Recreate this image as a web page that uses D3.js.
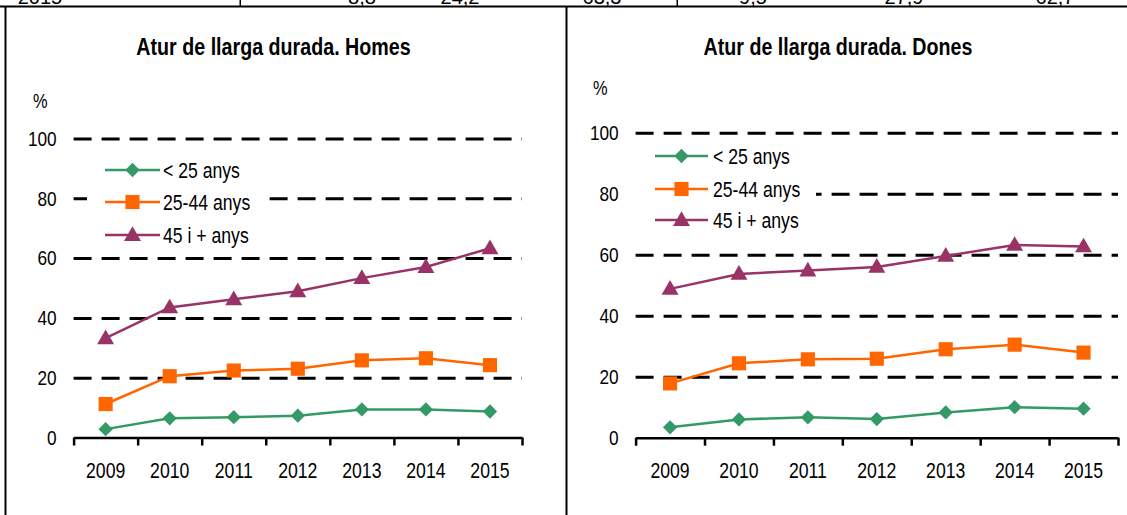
<!DOCTYPE html>
<html>
<head>
<meta charset="utf-8">
<script src="https://cdn.jsdelivr.net/npm/d3@7"></script>
<style>
  html, body { margin: 0; padding: 0; background: #fff; }
  svg { display: block; }
  text { font-family: 'Liberation Sans Narrow', 'Arial Narrow', 'Liberation Sans', Arial, sans-serif; fill: #000; }
</style>
</head>
<body>
<svg id="chart" width="1127" height="515"></svg>
<script>
// Data
const years = ['2009', '2010', '2011', '2012', '2013', '2014', '2015'];
const yTicks = [0, 20, 40, 60, 80, 100];
const seriesNames = ['< 25 anys', '25-44 anys', '45 i + anys'];

const homesUnder25 = [2.8, 6.4, 6.8, 7.3, 9.4, 9.4, 8.7];
const homes25to44 = [11.2, 20.5, 22.4, 23.0, 25.8, 26.5, 24.2];
const homes45plus = [33.2, 43.5, 46.2, 48.9, 53.3, 57.0, 63.3];

const donesUnder25 = [3.4, 6.0, 6.7, 6.1, 8.3, 10.0, 9.5];
const dones25to44 = [17.8, 24.4, 25.7, 25.9, 29.0, 30.5, 27.9];
const dones45plus = [48.8, 53.7, 54.8, 56.0, 59.6, 63.2, 62.7];

// last row of the table above the charts (mostly cut off)
const tableRow = ['2015', '8,8', '24,2', '63,3', '9,5', '27,9', '62,7'];
const tableX = [40, 362, 460, 602, 753, 904, 1055];

const colors = ['#339966', '#ff6600', '#993366'];
const symbols = [d3.symbolDiamond2, d3.symbolSquare, d3.symbolTriangle];
const symbolSizes = [130, 200, 125];

// no narrow face installed: squeeze the regular one
const NARROW = 0.82;
const narrowAt = (sel) => sel.each(function () {
  const t = d3.select(this);
  const x = +t.attr('x') || 0;
  t.attr('x', 0).attr('transform', `translate(${x},0) scale(${NARROW},1)`);
});

const svg = d3.select('#chart');

// Table remnant + borders
svg.selectAll('.cell')
  .data(tableRow)
  .join('text')
  .attr('class', 'cell')
  .attr('x', (d, i) => tableX[i])
  .attr('y', 3.5)
  .attr('text-anchor', 'middle')
  .style('font-size', '20px')
  .text(d => d);

svg.append('rect').attr('x', 0).attr('y', 5.5).attr('width', 1127).attr('height', 2).attr('fill', '#000');
svg.append('rect').attr('x', 239.5).attr('y', 0).attr('width', 1.5).attr('height', 6).attr('fill', '#000');
svg.append('rect').attr('x', 676.5).attr('y', 0).attr('width', 1.5).attr('height', 6).attr('fill', '#000');
svg.append('rect').attr('x', 4.5).attr('y', 6).attr('width', 2).attr('height', 509).attr('fill', '#000');
svg.append('rect').attr('x', 565.5).attr('y', 6).attr('width', 2).attr('height', 509).attr('fill', '#000');

const drawPanel = (cfg) => {
  const g = svg.append('g');

  const x = d3.scaleBand().domain(years).range([cfg.x0, cfg.x1]).padding(0);
  const xTick = d3.scaleLinear().domain([0, years.length]).range([cfg.x0, cfg.x1]);
  const y = d3.scaleLinear().domain([0, 100]).range([cfg.yBottom, cfg.yTop]);

  // title and unit
  g.append('text')
    .attr('x', cfg.titleX)
    .attr('y', 55)
    .attr('text-anchor', 'middle')
    .style('font-size', '24px')
    .style('font-weight', 'bold')
    .text(cfg.title)
    .call(narrowAt);

  g.append('text')
    .attr('x', cfg.pctX)
    .attr('y', cfg.pctY)
    .style('font-size', '20px')
    .text('%')
    .call(narrowAt);

  // dashed grid lines
  g.append('g')
    .attr('transform', `translate(${cfg.x0},0)`)
    .call(d3.axisLeft(y).tickValues(yTicks.filter(v => v > 0)).tickSize(-(cfg.x1 - cfg.x0)).tickFormat(''))
    .call(s => s.select('.domain').remove())
    .call(s => s.selectAll('line')
      .attr('stroke', '#000')
      .attr('stroke-width', 3)
      .attr('stroke-dasharray', '18,10'));

  // y labels
  g.append('g')
    .attr('transform', `translate(${cfg.x0 - 17},0)`)
    .call(d3.axisLeft(y).tickValues(yTicks).tickSize(0).tickPadding(0))
    .call(s => s.select('.domain').remove())
    .call(s => s.selectAll('text')
      .style('font-size', '21px')
      .style('font-family', null)
      .attr('fill', '#000')
      .attr('transform', `scale(${NARROW},1)`));

  // x axis line with ticks at category boundaries
  g.append('g')
    .attr('transform', `translate(0,${cfg.yBottom})`)
    .call(d3.axisBottom(xTick).tickValues(d3.range(years.length + 1)).tickSize(8).tickSizeOuter(0).tickFormat(''))
    .call(s => s.select('.domain').attr('stroke', '#000').attr('stroke-width', 2.5))
    .call(s => s.selectAll('line').attr('stroke', '#000').attr('stroke-width', 2.5));

  g.append('g')
    .attr('transform', `translate(0,${cfg.yBottom})`)
    .call(d3.axisBottom(x).tickSize(0))
    .call(s => s.select('.domain').remove())
    .call(s => s.selectAll('text')
      .attr('y', 25)
      .attr('dy', '0.71em')
      .style('font-size', '21.5px')
      .style('font-family', null)
      .attr('fill', '#000')
      .attr('transform', `scale(${NARROW},1)`));

  // legend background hides the grid behind it
  g.append('rect')
    .attr('x', cfg.legend.boxX)
    .attr('y', cfg.legend.boxY)
    .attr('width', cfg.legend.boxW)
    .attr('height', cfg.legend.boxH)
    .attr('fill', '#fff');

  // series lines + markers
  const line = d3.line()
    .x((d, i) => x(years[i]) + x.bandwidth() / 2)
    .y(d => y(d));

  cfg.series.forEach((vals, si) => {
    g.append('path')
      .datum(vals)
      .attr('fill', 'none')
      .attr('stroke', colors[si])
      .attr('stroke-width', 2.5)
      .attr('d', line);

    g.selectAll(null)
      .data(vals)
      .join('path')
      .attr('transform', (d, i) => `translate(${x(years[i]) + x.bandwidth() / 2},${y(d) + (si === 2 ? 1 : 0)})`)
      .attr('d', d3.symbol().type(symbols[si]).size(symbolSizes[si]))
      .attr('fill', colors[si]);
  });

  // legend
  const lg = cfg.legend;
  seriesNames.forEach((name, si) => {
    const ly = lg.rowY[si];
    g.append('line')
      .attr('x1', lg.lineX0).attr('x2', lg.lineX1)
      .attr('y1', ly).attr('y2', ly)
      .attr('stroke', colors[si])
      .attr('stroke-width', 2.5);
    g.append('path')
      .attr('transform', `translate(${(lg.lineX0 + lg.lineX1) / 2},${ly + (si === 2 ? 1 : 0)})`)
      .attr('d', d3.symbol().type(symbols[si]).size(symbolSizes[si]))
      .attr('fill', colors[si]);
    g.append('text')
      .attr('x', lg.textX)
      .attr('y', ly)
      .attr('dy', '0.35em')
      .style('font-size', '21.5px')
      .text(name)
      .call(narrowAt);
  });
};

drawPanel({
  title: 'Atur de llarga durada. Homes',
  titleX: 273.5,
  pctX: 33, pctY: 108,
  x0: 73.6, x1: 522,
  yBottom: 437.5, yTop: 138.5,
  series: [homesUnder25, homes25to44, homes45plus],
  legend: { boxX: 87, boxY: 148, boxW: 181, boxH: 104, lineX0: 105, lineX1: 160, textX: 163, rowY: [170, 202, 235] }
});

drawPanel({
  title: 'Atur de llarga durada. Dones',
  titleX: 838,
  pctX: 593, pctY: 95,
  x0: 635.6, x1: 1118,
  yBottom: 437.7, yTop: 132.7,
  series: [donesUnder25, dones25to44, dones45plus],
  legend: { boxX: 632, boxY: 140, boxW: 184, boxH: 106, lineX0: 655, lineX1: 708, textX: 713, rowY: [156, 189, 220] }
});
</script>
</body>
</html>
